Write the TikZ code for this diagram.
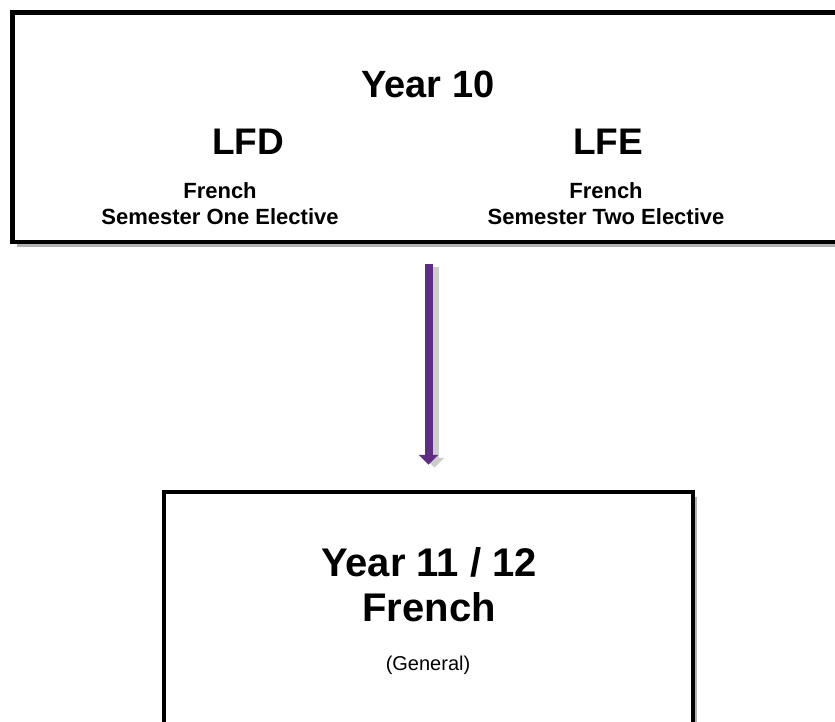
\documentclass[tikz,border=0pt]{standalone}
\usepackage{fontspec}
\setmainfont{Liberation Sans}
\usetikzlibrary{positioning,shadows,arrows.meta}
\definecolor{flowpurple}{RGB}{94,45,130}
\tikzset{
  panel/.style={draw, line width=4.5pt, fill=white, drop shadow={shadow xshift=4pt, shadow yshift=-5pt, opacity=0.3, fill=black}},
  head/.style={font=\bfseries\fontsize{38}{44}\selectfont},
  code/.style={font=\bfseries\fontsize{37}{42}\selectfont},
  course/.style={align=center, font=\bfseries\fontsize{22}{26}\selectfont},
  flow/.style={draw=flowpurple, line width=8pt, -{Triangle[width=19pt,length=10pt]},
    preaction={draw=black!20, line width=8pt, transform canvas={xshift=6pt,yshift=-3pt}}}
}
\begin{document}
\begin{tikzpicture}[x=1pt,y=-1pt]
\useasboundingbox (0,0) rectangle (835,722);
\clip (0,0) rectangle (835,722);
\node [panel, minimum width=832pt, minimum height=229.5pt] (year10) at (428.5,127.25) {};
\node [panel, minimum width=529pt, minimum height=280pt] (year11) at (428.5,632) {};
\node [head] (y10title) at (428,84) {Year 10};
\node [code] (lfd) at (248,142) {LFD};
\node [code] (lfe) at (608,142) {LFE};
\node [course] (semone) at (220,204) {French\\ Semester One Elective};
\node [course] (semtwo) at (606,204) {French\\ Semester Two Elective};
\node [align=center, font=\bfseries\fontsize{40}{45}\selectfont] (y11title) at (429,585) {Year 11 / 12\\ French};
\node [font=\fontsize{20}{24}\selectfont] (general) at (428,665) {(General)};
\draw [flow, shorten <=20pt, shorten >=25pt] (year10) -- (year11);
\end{tikzpicture}
\end{document}
